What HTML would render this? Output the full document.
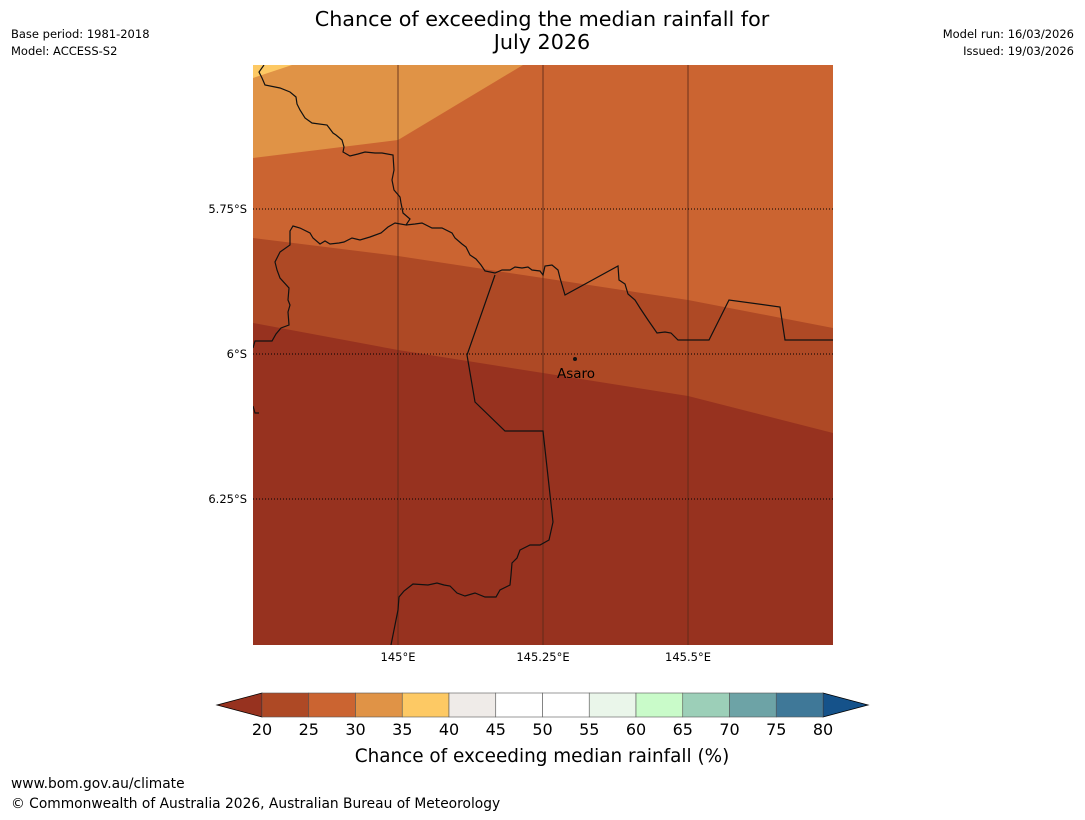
<!DOCTYPE html>
<html><head><meta charset="utf-8"><style>
body{margin:0;background:#fff;width:1085px;height:816px;overflow:hidden;font-family:"DejaVu Sans","Liberation Sans",sans-serif}
</style></head><body>
<svg width="1085" height="816" xmlns="http://www.w3.org/2000/svg" font-family="DejaVu Sans, Liberation Sans, sans-serif">
<text x="542" y="26" font-size="20.7" text-anchor="middle">Chance of exceeding the median rainfall for</text>
<text x="542" y="49" font-size="20.7" text-anchor="middle">July 2026</text>
<text x="11" y="38" font-size="11.5">Base period: 1981-2018</text>
<text x="11" y="55" font-size="11.5">Model: ACCESS-S2</text>
<text x="1074" y="38" font-size="11.5" text-anchor="end">Model run: 16/03/2026</text>
<text x="1074" y="55" font-size="11.5" text-anchor="end">Issued: 19/03/2026</text>
<defs><clipPath id="mc"><rect x="253" y="65" width="580" height="580"/></clipPath></defs>
<g id="map" clip-path="url(#mc)">
<rect x="253" y="65" width="580" height="580" fill="#97321f"/>
<polygon points="253,65 833,65 833,433 688,396 543,373 398,350 253,323" fill="#ae4925"/>
<polygon points="253,65 833,65 833,328 688,300 543,278 398,256 253,238" fill="#cb6431"/>
<polygon points="253,65 523,65 398,140 253,158" fill="#e09346"/>
<polygon points="253,65 292,65 253,78" fill="#fdc964"/>
<g stroke="#5a2a18" stroke-opacity="0.7" stroke-width="1.2">
<line x1="398" y1="65" x2="398" y2="645"/><line x1="543" y1="65" x2="543" y2="645"/><line x1="688" y1="65" x2="688" y2="645"/></g>
<g stroke="#000" stroke-width="1" stroke-dasharray="1,2">
<line x1="253" y1="209" x2="833" y2="209"/><line x1="253" y1="354" x2="833" y2="354"/><line x1="253" y1="499" x2="833" y2="499"/></g>
<g fill="none" stroke="#111" stroke-width="1.2">
<polyline points="264,65 259,72 262,78 265,85 280,88 290,92 296,97 297,104 300,110 305,118 312,123 327,125 333,133 336,135 342,140 344,147 343,152 350,156 358,154 365,152 375,153 382,153 393,155 394,170 392,180 394,190 400,197 401,203 403,213 410,219 406,225 395,223 388,227 381,233 370,237 360,240 352,238 344,242 339,243 330,244 325,241 320,244 313,238 310,233 300,228 293,226 290,231 290,245 280,252 275,262 277,270 280,278 289,288 288,300 290,305 288,312 289,325 281,328 276,334 272,341 255,341 253,348"/>
<polyline points="406,225 415,224 422,223 432,228 442,228 452,233 455,238 462,244 466,247 470,255 476,259 481,265 485,271 495,273 502,270 510,270 515,267 522,268 528,267 532,270 540,271 543,275 545,266 552,265 558,270 560,278 565,295 618,266 619,280 625,284 628,294 635,300 640,308 648,320 657,333 665,332 671,333 678,340 709,340 729,300 780,307 785,340 833,340"/>
<polyline points="495,275 467,355 475,402 505,431 543,431 553,522 549,540 540,545 530,545 520,550 517,558 512,563 511,575 510,585 500,590 496,597 485,597 475,593 465,596 457,593 450,586 444,585 437,583 428,585 413,584 404,591 399,597 398,610 391,645"/>
<polyline points="253,406 255,413 259,413"/>
</g>
<circle cx="575" cy="359" r="2" fill="#111"/>
<text x="557" y="378" font-size="13.5">Asaro</text>
</g>
<g font-size="11.5" text-anchor="end">
<text x="247" y="213">5.75°S</text><text x="247" y="358">6°S</text><text x="247" y="503">6.25°S</text></g>
<g font-size="11.5" text-anchor="middle">
<text x="398" y="661">145°E</text><text x="543" y="661">145.25°E</text><text x="688" y="661">145.5°E</text></g>
<g id="cbar"></g>
<text x="542" y="762" font-size="18.4" text-anchor="middle">Chance of exceeding median rainfall (%)</text>
<text x="11" y="788" font-size="13.8">www.bom.gov.au/climate</text>
<text x="11" y="808" font-size="13.8">© Commonwealth of Australia 2026, Australian Bureau of Meteorology</text>
</svg>
<script>
const levels=[20,25,30,35,40,45,50,55,60,65,70,75,80];
const binColors=['#ae4925','#cb6431','#e09346','#fdc964','#efebe8','#ffffff','#ffffff','#eaf6ea','#c9fbc9','#9ccfb8','#6da3a6','#3f7898'];
const underColor='#97321f', overColor='#15528a';
const g=document.getElementById('cbar');const ns='http://www.w3.org/2000/svg';
const x0=262,x1=823,y0=693,y1=717;
const sx=v=>x0+(v-levels[0])/(levels[levels.length-1]-levels[0])*(x1-x0);
function mk(t,a){const e=document.createElementNS(ns,t);for(const k in a)e.setAttribute(k,a[k]);g.appendChild(e);return e;}
let e=mk('polygon',{points:`${x0},${y0} ${x0},${y1} 217,705`,fill:underColor,stroke:'#000','stroke-width':0.8});


e=mk('polygon',{points:`${x1},${y0} ${x1},${y1} 868,705`,fill:overColor,stroke:'#000','stroke-width':0.8});


for(let i=0;i<binColors.length;i++){
 const r=mk('rect',{x:sx(levels[i]),y:y0,width:sx(levels[i+1])-sx(levels[i]),height:y1-y0,fill:binColors[i],stroke:'#555','stroke-width':0.6});
 
 
}
for(const v of levels){
 const t=mk('text',{x:sx(v),y:735,'font-size':16,'text-anchor':'middle'});t.textContent=v;
 
 
}
</script>
</body></html>
